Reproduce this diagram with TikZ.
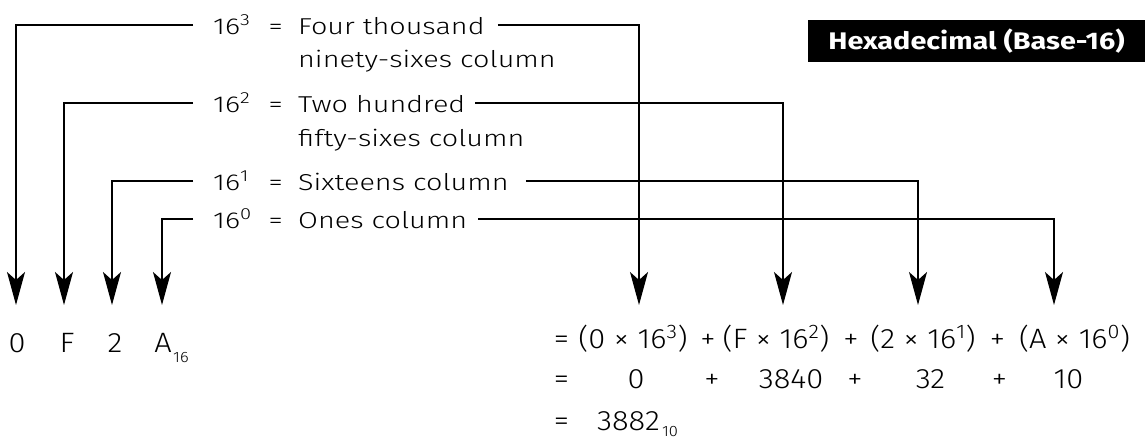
\documentclass[tikz,border=0pt]{standalone}
\usepackage{fontspec}
\setmainfont{Fira Sans Light}[FakeStretch=1.1]
\newfontfamily\labfont{Fira Sans Light}[FakeStretch=1.25]
\newfontfamily\titlefont{Fira Sans}[FakeStretch=1.2]
\usetikzlibrary{arrows.meta}
\begin{document}
\begin{tikzpicture}[x=1pt,y=-1pt,
  conn/.style={line width=1.3pt, black},
  arr/.style={conn, -{Stealth[length=33pt,width=18pt,inset=8pt]}},
  lab/.style={anchor=west, inner sep=0pt, font=\labfont\fontsize{23}{27}\selectfont},
  sub/.style={anchor=base west, inner sep=0pt, font=\labfont\fontsize{23}{27}\selectfont},
  eq/.style={anchor=base, inner sep=0pt, font=\fontsize{28}{32}\selectfont},
  small/.style={anchor=base west, inner sep=0pt, font=\fontsize{15}{15}\selectfont},
]
\useasboundingbox (0,0) rectangle (1145,439);

% title
\node[fill=black, text=white, inner sep=0pt, minimum width=337pt, minimum height=42pt,
  font=\titlefont\bfseries\fontsize{24}{28}\selectfont] (title) at (976.5,41) {Hexadecimal (Base-16)};

% labels
\node[lab] (l1) at (213,25) {\makebox[85pt][l]{\makebox[50pt][l]{16\textsuperscript{3}}\makebox[25pt]{=}}Four thousand};
\node[sub] (l1b) at (298,67) {ninety-sixes column};
\node[lab] (l2) at (213,103) {\makebox[85pt][l]{\makebox[50pt][l]{16\textsuperscript{2}}\makebox[25pt]{=}}Two hundred};
\node[sub] (l2b) at (298,146) {fifty-sixes column};
\node[lab] (l3) at (213,181) {\makebox[85pt][l]{\makebox[50pt][l]{16\textsuperscript{1}}\makebox[25pt]{=}}Sixteens column};
\node[lab] (l4) at (213,219) {\makebox[85pt][l]{\makebox[50pt][l]{16\textsuperscript{0}}\makebox[25pt]{=}}Ones column};

% arrow tips
\coordinate (t0) at (16,305);
\coordinate (t1) at (64,305);
\coordinate (t2) at (112,305);
\coordinate (t3) at (162,305);
\coordinate (r3) at (639,305);
\coordinate (r2) at (783,305);
\coordinate (r1) at (918,305);
\coordinate (r0) at (1054,305);

% connectors
\draw[arr] ([xshift=-20pt]l1.west) -| (t0);
\draw[arr] ([xshift=-20pt]l2.west) -| (t1);
\draw[arr] ([xshift=-20pt]l3.west) -| (t2);
\draw[arr] ([xshift=-20pt]l4.west) -| (t3);
\draw[arr] ([xshift=13pt]l1.east) -| (r3);
\draw[arr] ([xshift=10pt]l2.east) -| (r2);
\draw[arr] ([xshift=17pt]l3.east) -| (r1);
\draw[arr] ([xshift=11pt]l4.east) -| (r0);

% digits
\node[eq] (d0) at (17,352) {0};
\node[eq] (d1) at (67,352) {F};
\node[eq] (d2) at (115,352) {2};
\node[eq] (d3) at (163,352) {A};
\node[small] (d3s) at (173,362) {16};

% equation line 1
\node[eq] (e1eq) at (561.5,348) {=};
\node[eq] (e1a) at (633,348) {(0 × 16\textsuperscript{3})};
\node[eq] (e1p1) at (708,348) {+};
\node[eq] (e1b) at (776,348) {(F × 16\textsuperscript{2})};
\node[eq] (e1p2) at (851,348) {+};
\node[eq] (e1c) at (923,348) {(2 × 16\textsuperscript{1})};
\node[eq] (e1p3) at (997.5,348) {+};
\node[eq] (e1d) at (1074.5,348) {(A × 16\textsuperscript{0})};

% equation line 2
\node[eq] (e2eq) at (561.5,388) {=};
\node[eq] (e2a) at (636,388) {0};
\node[eq] (e2p1) at (712,388) {+};
\node[eq] (e2b) at (791,388) {3840};
\node[eq] (e2p2) at (855,388) {+};
\node[eq] (e2c) at (930.5,388) {32};
\node[eq] (e2p3) at (999.5,388) {+};
\node[eq] (e2d) at (1068.5,388) {10};

% equation line 3
\node[eq] (e3eq) at (561.5,430) {=};
\node[eq, anchor=base west] (e3a) at (597,430) {3882};
\node[small] (e3s) at ([shift={(2,6)}]e3a.base east) {10};
\end{tikzpicture}
\end{document}
